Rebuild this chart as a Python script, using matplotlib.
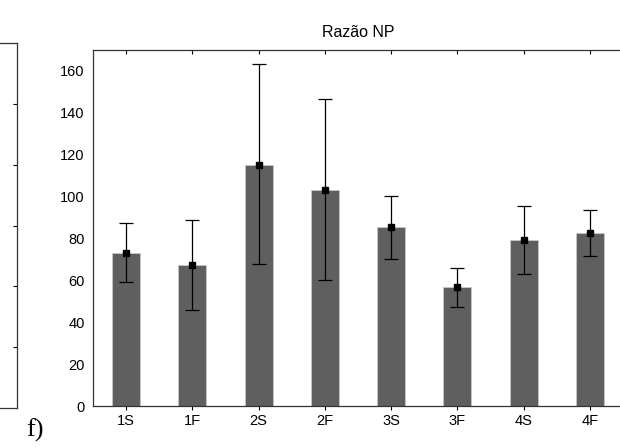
import matplotlib.pyplot as plt

# --- Data ---
categories = ["1S", "1F", "2S", "2F", "3S", "3F", "4S", "4F"]
means = [73.2, 67.4, 115.0, 103.1, 85.4, 56.9, 79.2, 82.7]
upper = [87.2, 89.0, 163.1, 146.4, 100.4, 66.0, 95.5, 93.6]
lower = [59.3, 45.7, 67.6, 60.0, 70.0, 47.4, 62.9, 71.6]

yticks = [0, 20, 40, 60, 80, 100, 120, 140, 160]

W, H = 620, 447
fig = plt.figure(figsize=(W / 100, H / 100), dpi=100)
plt.rcParams['font.family'] = ['Liberation Sans', 'DejaVu Sans']

# --- main panel ---
ax = fig.add_axes([93 / W, 1 - 406 / H, 530 / W, 356 / H])
x = list(range(len(categories)))
err = [[m - lo for m, lo in zip(means, lower)], [up - m for m, up in zip(means, upper)]]

ax.bar(x, means, width=0.42, color="#5f5f5f", edgecolor="#c8c8c8", linewidth=0.6, zorder=2)
ax.errorbar(x, means, yerr=err, fmt="s", color="black", ecolor="black",
            elinewidth=0.9, capsize=5, capthick=0.9, markersize=4.5, zorder=3)

ax.set_xlim(-0.5, 7.5)
ax.set_ylim(0, 170)
ax.set_xticks(x)
ax.set_xticklabels(categories, fontsize=10.5)
ax.set_yticks(yticks)
ax.set_yticklabels([str(t) for t in yticks], fontsize=10.5)
ax.tick_params(axis="y", length=0, pad=6)
ax.tick_params(axis="x", direction="out", length=3, width=0.8, pad=3)
for sp in ax.spines.values():
    sp.set_linewidth(0.9)
    sp.set_color("#333333")
ax.spines["right"].set_visible(False)

# top spine ticks point inward
sec = ax.secondary_xaxis("top")
sec.set_xticks(x)
sec.set_xticklabels([])
sec.tick_params(direction="in", length=3, width=0.8)
sec.spines["top"].set_visible(False)

ax.set_title("Razão NP", fontsize=11.5, pad=9)

# --- neighbouring panel, cut off at the left edge ---
ax2 = fig.add_axes([-60 / W, 1 - 408 / H, 76.5 / W, 365 / H])
ax2.set_xlim(0, 1)
ax2.set_ylim(0, 6)
ax2.set_xticks([])
ax2.set_yticks([1, 2, 3, 4, 5])
ax2.yaxis.tick_right()
ax2.tick_params(axis="y", direction="in", length=3, width=0.8, labelright=False)
for sp in ax2.spines.values():
    sp.set_linewidth(0.9)
    sp.set_color("#333333")

fig.text(26 / W, 1 - 437 / H, "f)", fontsize=19, family="Liberation Serif", va="baseline", ha="left")

fig.savefig("out.png", dpi=100)
